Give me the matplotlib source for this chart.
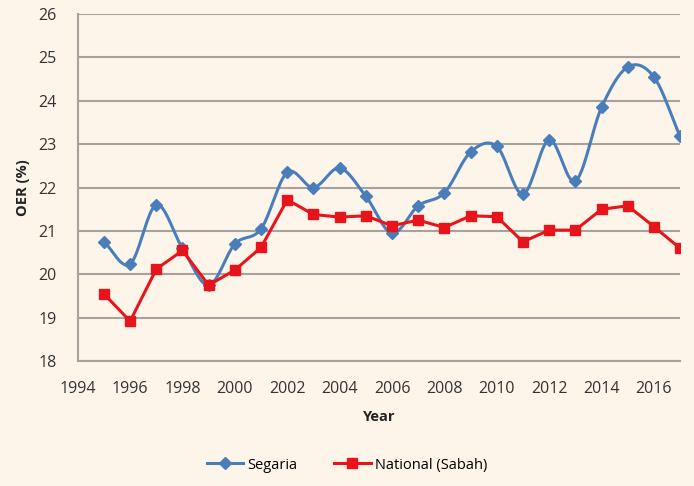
import numpy as np
import matplotlib
matplotlib.use("Agg")
import matplotlib.pyplot as plt

years = list(range(1995, 2018))
segaria = [20.75, 20.24, 21.6, 20.6, 19.75, 20.7, 21.05, 22.35, 22.0, 22.45, 21.8,
           20.95, 21.58, 21.88, 22.82, 22.95, 21.85, 23.1, 22.15, 23.85, 24.78, 24.55, 23.18]
national = [19.55, 18.92, 20.12, 20.55, 19.75, 20.1, 20.62, 21.72, 21.38, 21.32, 21.35,
            21.12, 21.25, 21.08, 21.35, 21.33, 20.75, 21.02, 21.02, 21.5, 21.58, 21.1, 20.6]

BG = "#fdf5ea"
BLUE = "#4a7ebb"
RED = "#e8141b"


def smooth(x, y, n=20):
    # catmull-rom curve through the points, like excel's "smoothed line"
    x = np.asarray(x, float)
    y = np.asarray(y, float)
    px = np.concatenate([[2 * x[0] - x[1]], x, [2 * x[-1] - x[-2]]])
    py = np.concatenate([[2 * y[0] - y[1]], y, [2 * y[-1] - y[-2]]])
    xs, ys = [], []
    t = np.linspace(0, 1, n, endpoint=False)
    for i in range(1, len(px) - 2):
        for p, out in ((px, xs), (py, ys)):
            p0, p1, p2, p3 = p[i - 1], p[i], p[i + 1], p[i + 2]
            out.extend(0.5 * (2 * p1 + (-p0 + p2) * t + (2 * p0 - 5 * p1 + 4 * p2 - p3) * t ** 2
                              + (-p0 + 3 * p1 - 3 * p2 + p3) * t ** 3))
    xs.append(x[-1])
    ys.append(y[-1])
    return xs, ys


plt.rcParams["font.family"] = ["Open Sans", "DejaVu Sans"]

fig = plt.figure(figsize=(6.94, 4.86), dpi=100, facecolor=BG)
ax = fig.add_axes([0.112, 0.257, 0.868, 0.714], facecolor=BG)

sx, sy = smooth(years, segaria)
ax.plot(sx, sy, color=BLUE, lw=2.2, zorder=3)
ax.plot(years, segaria, ls="none", marker="D", ms=6, color=BLUE, zorder=4)
ax.plot(years, national, color=RED, lw=2.2, marker="s", ms=7.5, zorder=5)

# legend proxies
ax.plot([], [], color=BLUE, lw=2.2, marker="D", ms=6, label="Segaria")
ax.plot([], [], color=RED, lw=2.2, marker="s", ms=7.5, label="National (Sabah)")

ax.set_xlim(1994, 2017)
ax.set_ylim(18, 26)
ax.set_xticks(range(1994, 2017, 2))
ax.set_yticks(range(18, 27))
ax.grid(axis="y", color="#a6a39e", lw=1.5)
ax.set_axisbelow(True)
for s in ("top", "right"):
    ax.spines[s].set_visible(False)
for s in ("left", "bottom"):
    ax.spines[s].set_color("#a6a39e")
    ax.spines[s].set_linewidth(1.5)
ax.tick_params(length=0, labelsize=11.5, colors="#333333")
ax.tick_params(axis="y", pad=15)
ax.tick_params(axis="x", pad=14)
ax.set_xlabel("Year", fontsize=10.5, fontweight="bold", color="#222222", labelpad=10)
ax.set_ylabel("OER (%)", fontsize=10.5, fontweight="bold", color="#222222", labelpad=6)

handles, labels = ax.get_legend_handles_labels()
fig.legend(handles[-2:], labels[-2:], loc="center", bbox_to_anchor=(0.5, 0.043), ncol=2,
           frameon=False, fontsize=10.5, handlelength=2.5, columnspacing=2.5, handletextpad=0.3)

fig.savefig("out.png", dpi=100, facecolor=BG)
